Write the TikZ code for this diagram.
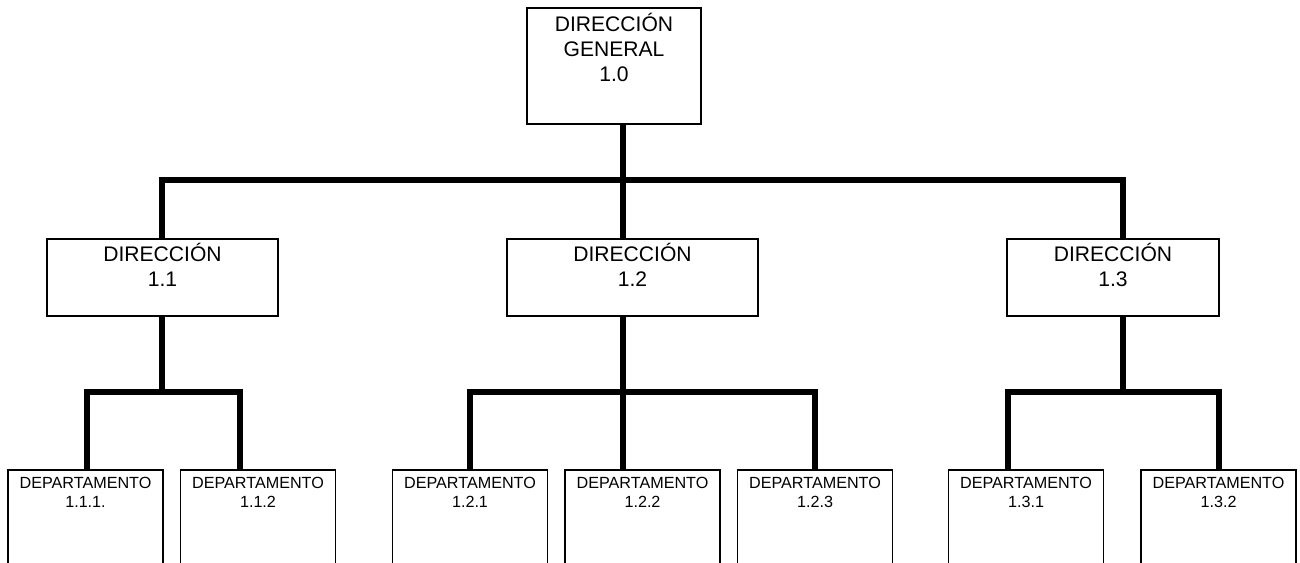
\documentclass[tikz,border=0pt]{standalone}
\usepackage{fontspec}
\setmainfont{Liberation Sans}
\usetikzlibrary{positioning}

\begin{document}
\begin{tikzpicture}[x=0.02cm, y=-0.02cm,
    box/.style={draw, line width=1.1pt, fill=white, inner sep=0pt, anchor=north},
    dirbox/.style={box, minimum height=1.54cm},
    depbox/.style={box, minimum width=3.1cm, minimum height=2.4cm},
    rotulo/.style={font=\fontsize{12}{14}\selectfont, align=center, inner sep=0pt, anchor=north},
    rotulodep/.style={font=\fontsize{9.2}{10.8}\selectfont, align=center, inner sep=0pt, anchor=north},
    bus/.style={line width=3pt}]

    \clip (0,0) rectangle (1300,562);

    % Direccion general
    \node[box, minimum width=3.48cm, minimum height=2.32cm,
          label={[rotulo, yshift=-3.6pt]north:DIRECCIÓN\\GENERAL\\1.0}] (dg) at (614,7) {};

    % Direcciones
    \node[dirbox, minimum width=4.62cm, label={[rotulo, yshift=-3pt]north:DIRECCIÓN\\1.1}] (d11) at (162.5,238) {};
    \node[dirbox, minimum width=5.02cm, label={[rotulo, yshift=-3pt]north:DIRECCIÓN\\1.2}] (d12) at (632.5,238) {};
    \node[dirbox, minimum width=4.24cm, label={[rotulo, yshift=-3pt]north:DIRECCIÓN\\1.3}] (d13) at (1113,238) {};

    % Departamentos
    \node[depbox, label={[rotulodep, yshift=-4.3pt]north:DEPARTAMENTO\\1.1.1.}] (d111) at (85.5,469) {};
    \node[depbox, label={[rotulodep, yshift=-4.3pt]north:DEPARTAMENTO\\1.1.2}] (d112) at (258,469) {};
    \node[depbox, label={[rotulodep, yshift=-4.3pt]north:DEPARTAMENTO\\1.2.1}] (d121) at (470,469) {};
    \node[depbox, label={[rotulodep, yshift=-4.3pt]north:DEPARTAMENTO\\1.2.2}] (d122) at (642.5,469) {};
    \node[depbox, label={[rotulodep, yshift=-4.3pt]north:DEPARTAMENTO\\1.2.3}] (d123) at (815,469) {};
    \node[depbox, label={[rotulodep, yshift=-4.3pt]north:DEPARTAMENTO\\1.3.1}] (d131) at (1026,469) {};
    \node[depbox, label={[rotulodep, yshift=-4.3pt]north:DEPARTAMENTO\\1.3.2}] (d132) at (1218.5,469) {};

    % Barras
    \coordinate (b0) at (623,180);
    \coordinate (b1) at (162,180);
    \coordinate (b3) at (1123,180);
    \draw[bus] (dg.south -| b0) -- (b0 |- d12.north);
    \draw[bus] (b1 |- d11.north) -- (b1) -- (b3) -- (b3 |- d13.north);

    \coordinate (c11) at (87,392);
    \coordinate (c12) at (240,392);
    \draw[bus] (d11.south -| b1) -- (b1 |- c11);
    \draw[bus] (c11 |- d111.north) -- (c11) -- (c12) -- (c12 |- d112.north);

    \coordinate (c21) at (470,392);
    \coordinate (c23) at (815,392);
    \draw[bus] (d12.south -| b0) -- (b0 |- d122.north);
    \draw[bus] (c21 |- d121.north) -- (c21) -- (c23) -- (c23 |- d123.north);

    \coordinate (c31) at (1008,392);
    \coordinate (c32) at (1219,392);
    \draw[bus] (d13.south -| b3) -- (b3 |- c31);
    \draw[bus] (c31 |- d131.north) -- (c31) -- (c32) -- (c32 |- d132.north);
\end{tikzpicture}
\end{document}
